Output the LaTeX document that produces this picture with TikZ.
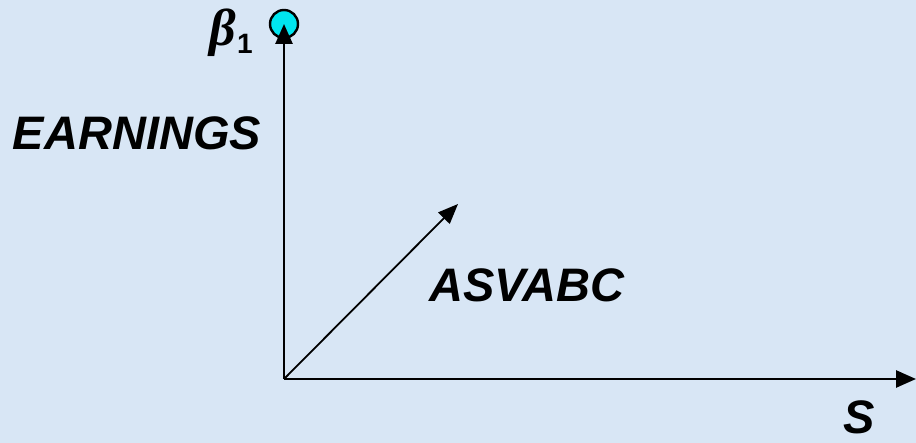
\documentclass[tikz,border=0pt]{standalone}
\usepackage{fontspec}
\setmainfont{Liberation Sans}
\newfontfamily\greekf{Liberation Serif}
\usetikzlibrary{arrows.meta}
\definecolor{bgblue}{RGB}{216,230,245}
\definecolor{dotcyan}{RGB}{0,230,240}
\tikzset{
  axis/.style={line width=2.6pt,-{Triangle[length=20pt,width=17pt]}},
  diag/.style={line width=1.8pt,-{Triangle[length=20pt,width=16pt]}},
  lbl/.style={font=\fontsize{47}{50}\selectfont\bfseries\itshape,inner sep=0pt}
}
\begin{document}
\begin{tikzpicture}[x=1pt,y=-1pt]
\fill[bgblue] (0,0) rectangle (916,443);
\useasboundingbox (0,0) rectangle (916,443);
\node[circle,draw=black,line width=2.4pt,fill=dotcyan,minimum size=28pt,inner sep=0pt] (dot) at (284,24) {};
\coordinate (o) at (284,379);
\coordinate (xend) at (916,379);
\coordinate (dend) at (458,204);
\draw[axis] (o) -- (dot.center);
\draw[axis] (o) -- (xend);
\draw[diag] (o) -- (dend);
\node[inner sep=0pt] (beta) at (231,33) {{\fontsize{52}{56}\selectfont\greekf\bfseries\itshape β}\kern1pt\raisebox{-8pt}{\fontsize{28}{30}\selectfont\normalfont\bfseries 1}};
\node[lbl] (earn) at (137,133) {EARNINGS};
\node[lbl] (asv) at (527,285) {ASVABC};
\node[lbl] (s) at (859,417) {S};
\end{tikzpicture}
\end{document}
